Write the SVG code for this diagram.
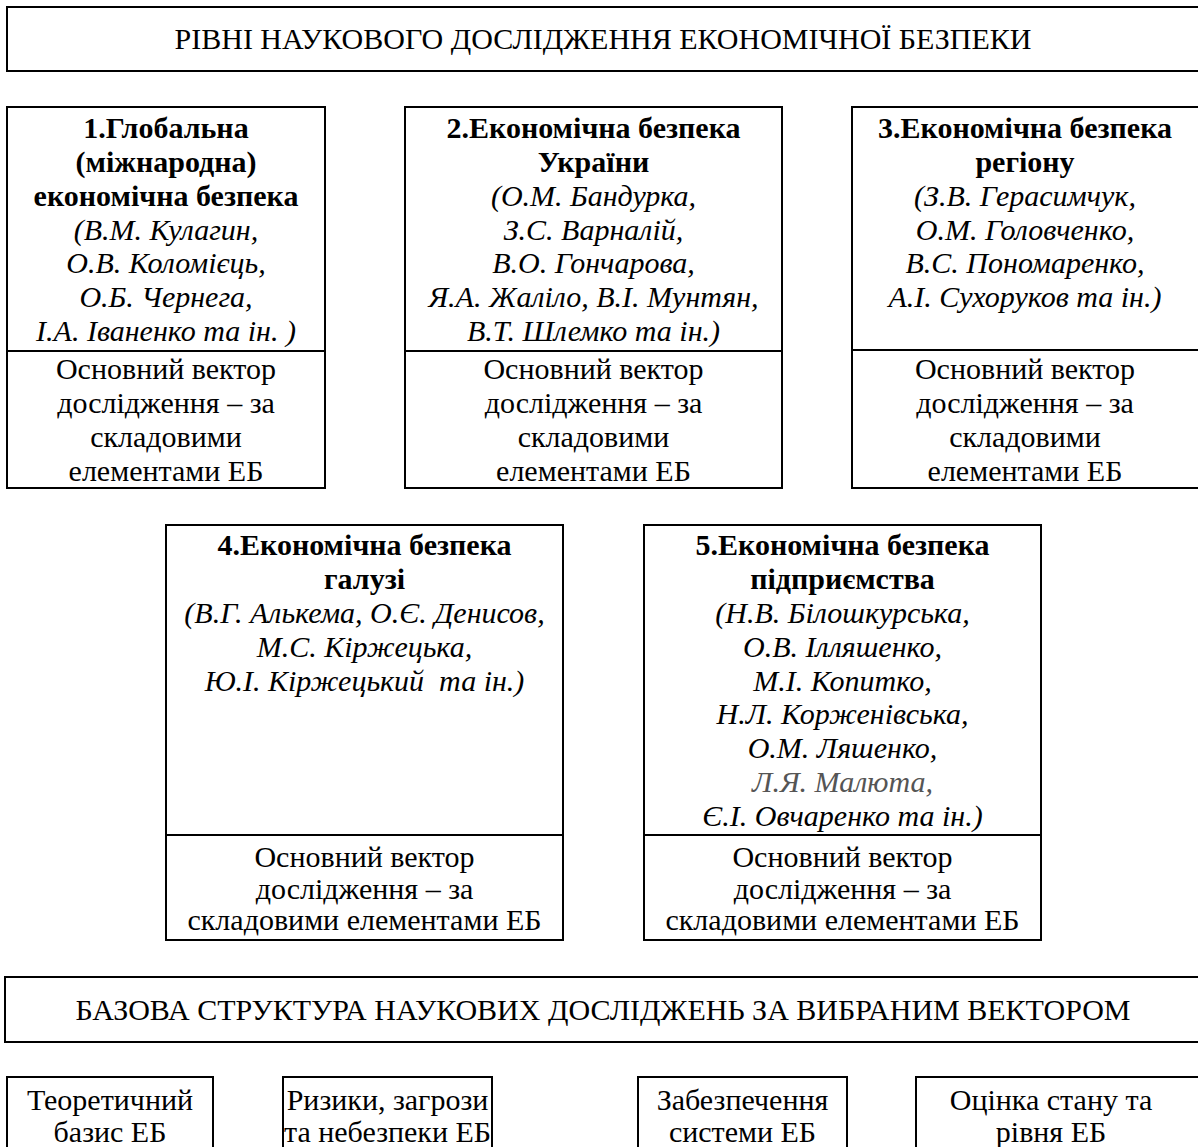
<svg xmlns="http://www.w3.org/2000/svg" width="1198" height="1147" viewBox="0 0 1198 1147">
<style>
rect{fill:#fff;stroke:#000;stroke-width:2}
line{stroke:#000;stroke-width:2}
text{font-family:'Liberation Serif','Times New Roman',serif;font-size:30px;fill:#000;text-anchor:middle}
.b{font-weight:bold}
.i{font-style:italic}
.g{fill:#555}
</style>
<rect x="0" y="0" width="1198" height="1147" style="stroke:none"/>
<g id="title-top">
<rect x="7" y="7" width="1200" height="64"/>
<text x="603" y="49">РІВНІ НАУКОВОГО ДОСЛІДЖЕННЯ ЕКОНОМІЧНОЇ БЕЗПЕКИ</text>
</g>
<g id="level1">
<rect x="7" y="107" width="318" height="381"/>
<line x1="7" y1="351" x2="325" y2="351"/>
<text x="166" y="138" class="b">1.Глобальна</text>
<text x="166" y="172" class="b">(міжнародна)</text>
<text x="166" y="206" class="b">економічна безпека</text>
<text x="166" y="240" class="i">(В.М. Кулагин,</text>
<text x="166" y="273" class="i">О.В. Коломієць,</text>
<text x="166" y="307" class="i">О.Б. Чернега,</text>
<text x="166" y="341" class="i">І.А. Іваненко та ін. )</text>
<text x="166" y="379">Основний вектор</text>
<text x="166" y="413">дослідження – за</text>
<text x="166" y="447">складовими</text>
<text x="166" y="481">елементами ЕБ</text>
</g>
<g id="level2">
<rect x="405" y="107" width="377" height="381"/>
<line x1="405" y1="351" x2="782" y2="351"/>
<text x="593.5" y="138" class="b">2.Економічна безпека</text>
<text x="593.5" y="172" class="b">України</text>
<text x="593.5" y="206" class="i">(О.М. Бандурка,</text>
<text x="593.5" y="240" class="i">З.С. Варналій,</text>
<text x="593.5" y="273" class="i">В.О. Гончарова,</text>
<text x="593.5" y="307" class="i">Я.А. Жаліло, В.І. Мунтян,</text>
<text x="593.5" y="341" class="i">В.Т. Шлемко та ін.)</text>
<text x="593.5" y="379">Основний вектор</text>
<text x="593.5" y="413">дослідження – за</text>
<text x="593.5" y="447">складовими</text>
<text x="593.5" y="481">елементами ЕБ</text>
</g>
<g id="level3">
<rect x="852" y="107" width="360" height="381"/>
<line x1="852" y1="350" x2="1212" y2="350"/>
<text x="1025" y="138" class="b">3.Економічна безпека</text>
<text x="1025" y="172" class="b">регіону</text>
<text x="1025" y="206" class="i">(З.В. Герасимчук,</text>
<text x="1025" y="240" class="i">О.М. Головченко,</text>
<text x="1025" y="273" class="i">В.С. Пономаренко,</text>
<text x="1025" y="307" class="i">А.І. Сухоруков та ін.)</text>
<text x="1025" y="379">Основний вектор</text>
<text x="1025" y="413">дослідження – за</text>
<text x="1025" y="447">складовими</text>
<text x="1025" y="481">елементами ЕБ</text>
</g>
<g id="level4">
<rect x="166" y="525" width="397" height="415"/>
<line x1="166" y1="835" x2="563" y2="835"/>
<text x="364.5" y="555" class="b">4.Економічна безпека</text>
<text x="364.5" y="589" class="b">галузі</text>
<text x="364.5" y="623" class="i">(В.Г. Алькема, О.Є. Денисов,</text>
<text x="364.5" y="657" class="i">М.С. Кіржецька,</text>
<text x="364.5" y="691" class="i">Ю.І. Кіржецький&#160; та ін.)</text>
<text x="364.5" y="867">Основний вектор</text>
<text x="364.5" y="899">дослідження – за</text>
<text x="364.5" y="930">складовими елементами ЕБ</text>
</g>
<g id="level5">
<rect x="644" y="525" width="397" height="415"/>
<line x1="644" y1="835" x2="1041" y2="835"/>
<text x="842.5" y="555" class="b">5.Економічна безпека</text>
<text x="842.5" y="589" class="b">підприємства</text>
<text x="842.5" y="623" class="i">(Н.В. Білошкурська,</text>
<text x="842.5" y="657" class="i">О.В. Ілляшенко,</text>
<text x="842.5" y="691" class="i">М.І. Копитко,</text>
<text x="842.5" y="724" class="i">Н.Л. Корженівська,</text>
<text x="842.5" y="758" class="i">О.М. Ляшенко,</text>
<text x="842.5" y="792" class="i g">Л.Я. Малюта,</text>
<text x="842.5" y="826" class="i">Є.І. Овчаренко та ін.)</text>
<text x="842.5" y="867">Основний вектор</text>
<text x="842.5" y="899">дослідження – за</text>
<text x="842.5" y="930">складовими елементами ЕБ</text>
</g>
<g id="title-bottom">
<rect x="5" y="977" width="1210" height="65"/>
<text x="603" y="1020">БАЗОВА СТРУКТУРА НАУКОВИХ ДОСЛІДЖЕНЬ ЗА ВИБРАНИМ ВЕКТОРОМ</text>
</g>
<g id="basis">
<rect x="7" y="1077" width="206" height="90"/>
<text x="110" y="1110">Теоретичний</text>
<text x="110" y="1142">базис ЕБ</text>
</g>
<g id="risks">
<rect x="283" y="1077" width="209" height="90"/>
<text x="387.5" y="1110">Ризики, загрози</text>
<text x="387.5" y="1142">та небезпеки ЕБ</text>
</g>
<g id="provision">
<rect x="638" y="1077" width="209" height="90"/>
<text x="742.5" y="1110">Забезпечення</text>
<text x="742.5" y="1142">системи ЕБ</text>
</g>
<g id="assessment">
<rect x="916" y="1077" width="300" height="90"/>
<text x="1051" y="1110">Оцінка стану та</text>
<text x="1051" y="1142">рівня ЕБ</text>
</g>
<g id="connectors"></g>
</svg>
